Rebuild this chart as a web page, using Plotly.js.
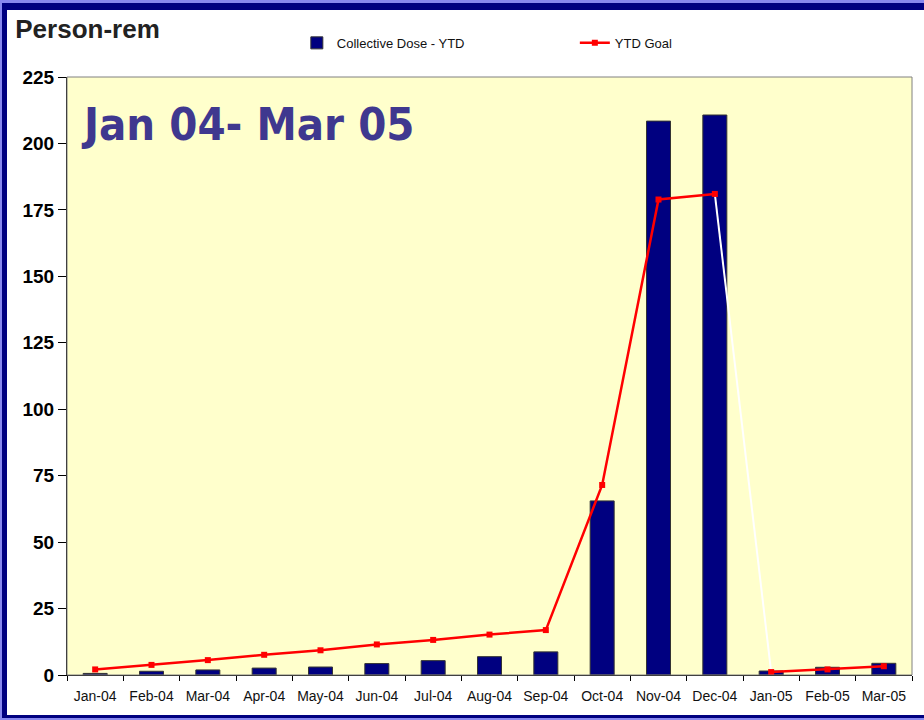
<!DOCTYPE html>
<html>
<head>
<meta charset="utf-8">
<script src="https://cdn.plot.ly/plotly-3.0.1.min.js"></script>
<style>
  body { margin: 0; background: #8888ee; }
  #frame {
    position: absolute; left: 2px; top: 3px; width: 922px; height: 715px;
    background: #000080;
  }
  #plot { position: absolute; left: 5px; top: 7px; width: 917px; height: 705px; background: #fff; }
</style>
</head>
<body>
<div id="frame"><div id="plot"></div></div>
<script>
// months on the x axis
const months = ['Jan-04', 'Feb-04', 'Mar-04', 'Apr-04', 'May-04', 'Jun-04', 'Jul-04', 'Aug-04',
  'Sep-04', 'Oct-04', 'Nov-04', 'Dec-04', 'Jan-05', 'Feb-05', 'Mar-05'];

// Collective dose, person-rem
const doseYTD = [0.6, 1.4, 1.9, 2.6, 3.0, 4.3, 5.4, 6.9, 8.7, 65.5, 208.4, 210.7, 1.5, 2.9, 4.4];

// YTD goal line
const goalYTD = [2.1, 3.8, 5.6, 7.6, 9.3, 11.5, 13.2, 15.2, 16.9, 71.5, 178.9, 181.0, 1.1, 2.1, 3.3];

const yTicks = [0, 25, 50, 75, 100, 125, 150, 175, 200, 225];

// the goal line is red within a year, the year change is drawn white
const cut = months.indexOf('Dec-04') + 1;

const bars = {
  x: months, y: doseYTD, type: 'bar', name: 'Collective Dose - YTD',
  marker: { color: '#000080', line: { color: '#333333', width: 1 } }
};

const yearJoin = {
  x: months.slice(cut - 1, cut + 1), y: goalYTD.slice(cut - 1, cut + 1),
  type: 'scatter', mode: 'lines', showlegend: false,
  line: { color: '#ffffff', width: 2 }
};

const goal04 = {
  x: months.slice(0, cut), y: goalYTD.slice(0, cut),
  type: 'scatter', mode: 'lines+markers', name: 'YTD Goal',
  line: { color: '#ff0000', width: 2.5 },
  marker: { symbol: 'square', size: 6, color: '#ff0000' }
};

const goal05 = {
  x: months.slice(cut), y: goalYTD.slice(cut),
  type: 'scatter', mode: 'lines+markers', showlegend: false,
  line: { color: '#ff0000', width: 2.5 },
  marker: { symbol: 'square', size: 6, color: '#ff0000' }
};

const layout = {
  width: 917, height: 705,
  margin: { l: 60, r: 12, t: 67, b: 40, autoexpand: false },
  paper_bgcolor: '#ffffff',
  plot_bgcolor: '#ffffcc',
  font: { family: 'Liberation Sans, Arial, sans-serif', color: '#111' },
  bargap: 0.574,
  title: {
    text: 'Person-rem', xref: 'container', yref: 'container',
    x: 0.009, xanchor: 'left', y: 0.973, yanchor: 'middle',
    font: { size: 26, weight: 'bold', color: '#222' }
  },
  showlegend: true,
  legend: {
    orientation: 'h', x: 0.272, xanchor: 'left', y: 1.057, yanchor: 'middle',
    font: { size: 13, color: '#111' }, entrywidth: 233, bgcolor: 'rgba(0,0,0,0)',
    traceorder: 'normal'
  },
  xaxis: {
    type: 'category', range: [-0.5, months.length - 0.5],
    tickson: 'boundaries', ticks: 'outside', ticklen: 5, ticklabelstandoff: 8,
    tickcolor: '#000', showline: true, linecolor: '#000', linewidth: 1,
    showgrid: false, tickfont: { size: 14, color: '#111' }, tickangle: 0
  },
  yaxis: {
    range: [0, 225], tickvals: yTicks, ticks: 'outside', ticklen: 8,
    tickcolor: '#000', showline: true, linecolor: '#000', linewidth: 1,
    showgrid: false, zeroline: false,
    tickfont: { size: 19, weight: 'bold', color: '#000' }
  },
  shapes: [{
    type: 'rect', xref: 'paper', yref: 'paper', x0: 0, x1: 1, y0: 0, y1: 1,
    line: { color: '#808080', width: 1 }, layer: 'above'
  }],
  annotations: [{
    text: 'Jan 04- Mar 05', xref: 'paper', yref: 'paper',
    x: 0.014, xanchor: 'left', y: 0.92, yanchor: 'middle', showarrow: false,
    font: { family: 'DejaVu Sans Condensed, DejaVu Sans, sans-serif', size: 45, weight: 'bold', color: '#3f388f' }
  }]
};

Plotly.newPlot('plot', [bars, yearJoin, goal04, goal05], layout, { staticPlot: true });
</script>
</body>
</html>
